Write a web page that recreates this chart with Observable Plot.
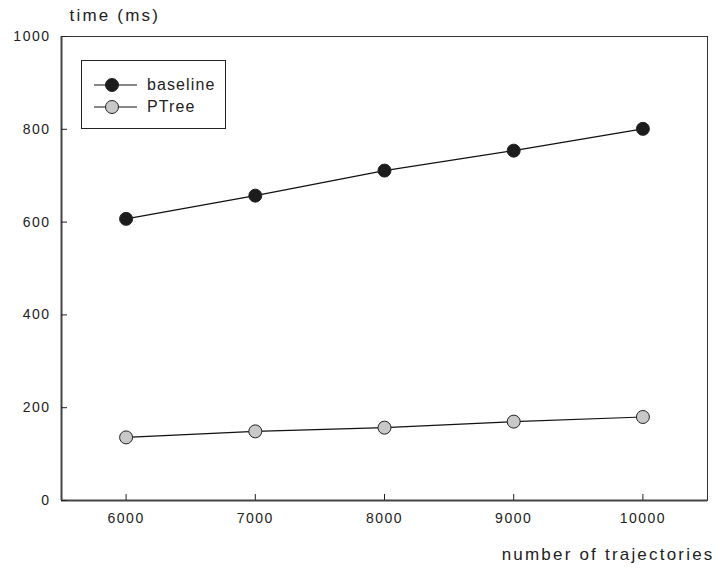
<!DOCTYPE html>
<html>
<head>
<meta charset="utf-8">
<script src="https://cdn.jsdelivr.net/npm/d3@7"></script>
<script src="https://cdn.jsdelivr.net/npm/@observablehq/plot@0.6"></script>
<style>
  html, body { margin: 0; padding: 0; background: #fff; }
  #wrap { position: relative; width: 717px; height: 569px; font-family: "Liberation Sans", Arial, sans-serif; }
  #legend { position: absolute; left: 81px; top: 60px; width: 145px; height: 69px; border: 1px solid #222; background: #fff; box-sizing: border-box; }
  .row { position: absolute; left: 12px; height: 16px; display: flex; align-items: center; font-size: 16px; letter-spacing: 1.1px; color: #222; }
  .row svg { margin-right: 10px; }
  g[aria-label="y-axis label"] text, g[aria-label="x-axis label"] text { font-size: 17px; letter-spacing: 2.2px; }
</style>
</head>
<body>
<div id="wrap"></div>
<script>
const trajectories = [6000, 7000, 8000, 9000, 10000];
const baseline = [607, 657, 711, 754, 801];
const ptree = [136, 149, 157, 170, 180];
const seriesNames = ["baseline", "PTree"];
const seriesFill = ["#1c1c1c", "#c8c8c8"];
const yTicks = [0, 200, 400, 600, 800, 1000];
const xTicks = [6000, 7000, 8000, 9000, 10000];

const rows = [];
trajectories.forEach((t, i) => {
  rows.push({x: t, y: baseline[i], s: seriesNames[0]});
  rows.push({x: t, y: ptree[i], s: seriesNames[1]});
});

const chart = Plot.plot({
  width: 717,
  height: 569,
  marginLeft: 61,
  marginRight: 10,
  marginTop: 36,
  marginBottom: 69,
  style: {fontFamily: "'Liberation Sans', Arial, sans-serif", fontSize: "14px", color: "#222", letterSpacing: "1.5px", background: "#fff"},
  x: {domain: [5500, 10500]},
  y: {domain: [0, 1000]},
  color: {domain: seriesNames, range: seriesFill},
  marks: [
    Plot.frame({stroke: "#333", strokeWidth: 1}),
    Plot.ruleY([0], {stroke: "#444", strokeWidth: 2}),
    Plot.ruleX([5500], {stroke: "#444", strokeWidth: 2}),
    Plot.axisY({ticks: yTicks, tickSize: -6, tickPadding: 17, tickFormat: d => String(d), label: "time (ms)", labelAnchor: "top", labelArrow: "none", labelOffset: -8}),
    Plot.axisX({ticks: xTicks, tickSize: -6, tickPadding: 19, tickFormat: d => String(d), label: "number of trajectories", labelAnchor: "right", labelArrow: "none", labelOffset: 59}),
    Plot.line(rows, {x: "x", y: "y", z: "s", stroke: "#111", strokeWidth: 1.2}),
    Plot.dot(rows, {x: "x", y: "y", fill: "s", r: 6.5, stroke: "#222", strokeWidth: 1})
  ]
});

// nudge the y axis label down slightly to match the reference placement
d3.select(chart).selectAll('g[aria-label="y-axis label"] text').attr("transform", function() {
  const t = d3.select(this).attr("transform") || "";
  return t + " translate(0,5)";
});

const wrap = document.getElementById("wrap");
wrap.appendChild(chart);

const legend = document.createElement("div");
legend.id = "legend";
seriesNames.forEach((name, i) => {
  const row = document.createElement("div");
  row.className = "row";
  row.style.top = (16 + i * 22) + "px";
  row.innerHTML = `<svg width="43" height="16"><line x1="0" x2="43" y1="8" y2="8" stroke="#111" stroke-width="1.2"/><circle cx="18" cy="8" r="6.5" fill="${seriesFill[i]}" stroke="#222"/></svg><span>${name}</span>`;
  legend.appendChild(row);
});
wrap.appendChild(legend);
</script>
</body>
</html>
